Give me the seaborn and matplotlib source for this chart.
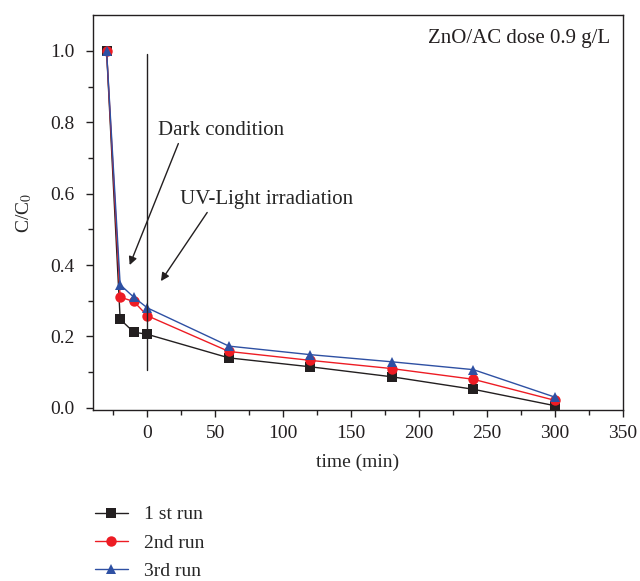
import numpy as np
import matplotlib
matplotlib.use("Agg")
import matplotlib.pyplot as plt
import pandas as pd
import seaborn as sns

sns.set_style("ticks")
plt.rcParams['font.family'] = ['Liberation Serif', 'DejaVu Serif']
plt.rcParams['mathtext.fontset'] = 'stix'

# data
time_min = [-30, -20, -10, 0, 60, 120, 180, 240, 300]
run1 = [1.0, 0.248, 0.212, 0.206, 0.140, 0.115, 0.087, 0.052, 0.006]
run2 = [1.0, 0.310, 0.298, 0.258, 0.158, 0.133, 0.110, 0.080, 0.021]
run3 = [1.0, 0.345, 0.310, 0.280, 0.173, 0.149, 0.129, 0.107, 0.030]
run_names = ["1 st run", "2nd run", "3rd run"]
run_colors = ["#231f20", "#ed1c24", "#2e50a3"]
run_markers = ["s", "o", "^"]

df = pd.DataFrame({
    "time": time_min * 3,
    "C": run1 + run2 + run3,
    "run": [n for n in run_names for _ in time_min],
})

fig = plt.figure(figsize=(6.4, 5.81), dpi=100)
ax = fig.add_axes([0.1453, 0.2943, 0.828, 0.6797])

sns.lineplot(data=df, x="time", y="C", hue="run", style="run",
             palette=dict(zip(run_names, run_colors)),
             markers=dict(zip(run_names, run_markers)),
             dashes=False, markersize=7.5, linewidth=1.0,
             markeredgewidth=0, ax=ax, legend=False)

ax.set_xlim(-40, 350)
ax.set_ylim(-0.006, 1.1)
ax.set_xticks(np.arange(0, 351, 50))
ax.set_xticks(np.arange(-25, 351, 25), minor=True)
ax.set_yticks(np.arange(0, 1.01, 0.2))
ax.set_yticks(np.arange(0, 1.05, 0.1), minor=True)
ax.set_yticklabels([f"{v:.1f}" for v in np.arange(0, 1.01, 0.2)])
ax.tick_params(axis='both', which='both', direction='out', labelsize=14,
               top=False, right=False, width=1, colors='#231f20')
ax.tick_params(which='major', length=5)
ax.tick_params(which='minor', length=3.5)
ax.tick_params(axis='x', which='major', pad=6)
ax.tick_params(axis='y', which='major', pad=8)
for s in ax.spines.values():
    s.set_linewidth(1.0)
    s.set_color('#231f20')

ax.set_xlabel("time (min)", fontsize=14, labelpad=8)
ax.set_ylabel("C/C$_0$", fontsize=14, labelpad=12)

# separator between dark and UV phases
ax.plot([0, 0], [0.105, 0.99], color='#231f20', linewidth=1.0)

ax.annotate("Dark condition", xy=(-13, 0.40), xytext=(8, 0.776),
            fontsize=15, va='center', ha='left',
            arrowprops=dict(arrowstyle='-|>', color='#231f20', lw=1.0,
                            shrinkA=0, shrinkB=0, mutation_scale=12,
                            relpos=(0.17, 0.0)))
ax.annotate("UV-Light irradiation", xy=(10, 0.355), xytext=(24, 0.583),
            fontsize=15, va='center', ha='left',
            arrowprops=dict(arrowstyle='-|>', color='#231f20', lw=1.0,
                            shrinkA=0, shrinkB=0, mutation_scale=12,
                            relpos=(0.17, 0.0)))
ax.text(0.975, 0.965, "ZnO/AC dose 0.9 g/L", transform=ax.transAxes,
        ha='right', va='top', fontsize=15, color='#231f20')

handles = [plt.Line2D([], [], color=c, marker=m, markersize=7.5,
                      markeredgewidth=0, linewidth=1.0)
           for c, m in zip(run_colors, run_markers)]
fig.legend(handles, run_names, loc='upper left',
           bbox_to_anchor=(0.136, 0.143), frameon=False, fontsize=14,
           handlelength=1.7, labelspacing=0.55, handletextpad=0.85,
           borderaxespad=0)

fig.savefig("out.png", dpi=100)
